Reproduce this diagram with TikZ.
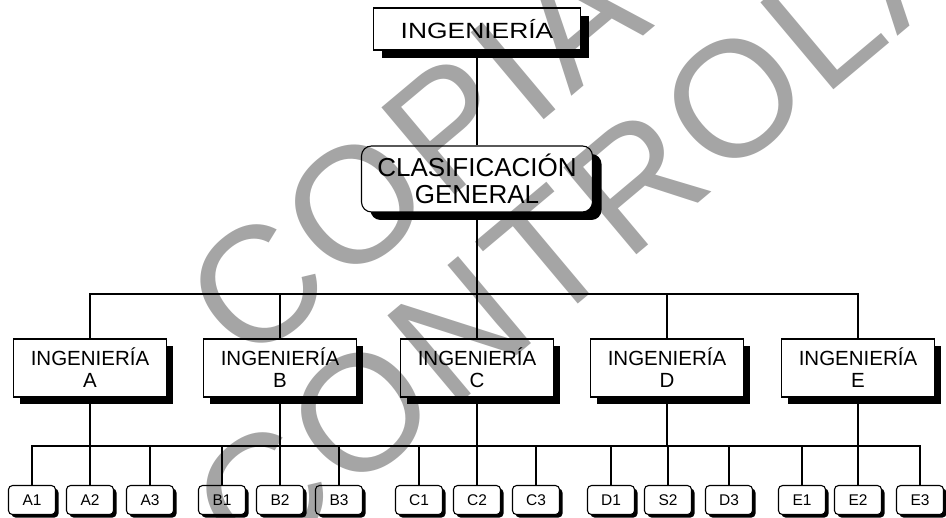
\documentclass[tikz,border=0pt]{standalone}
\usepackage{fontspec}
\setmainfont{Liberation Sans}
\newfontfamily\widesans{Liberation Sans}[FakeStretch=1.2]
\newfontfamily\stampfont{Liberation Sans}[LetterSpace=3]
\usepackage{xcolor}
\usetikzlibrary{positioning,shadows}
\definecolor{stampgray}{RGB}{165,165,165}
\tikzset{
  conn/.style={line width=1.8pt},
  topbox/.style={draw=black, line width=1.1pt, fill=white, inner sep=0pt,
    minimum width=207pt, minimum height=42pt,
    font=\widesans\fontsize{22}{24}\selectfont,
    drop shadow={shadow xshift=8pt, shadow yshift=-8pt, opacity=1, fill=black}},
  classbox/.style={draw=black, line width=1.1pt, fill=white, inner sep=0pt,
    rounded corners=10pt, align=center,
    minimum width=231pt, minimum height=66pt,
    font=\fontsize{26}{27}\selectfont,
    drop shadow={shadow xshift=9pt, shadow yshift=-8pt, opacity=1, fill=black}},
  engbox/.style={draw=black, line width=1.1pt, fill=white, inner sep=0pt,
    align=center, minimum width=153pt, minimum height=58pt,
    font=\fontsize{20.5}{22}\selectfont,
    drop shadow={shadow xshift=6.5pt, shadow yshift=-7pt, opacity=1, fill=black}},
  subbox/.style={draw=black, line width=1.1pt, fill=white, inner sep=0pt,
    rounded corners=4pt, minimum width=47pt, minimum height=29pt,
    font=\fontsize{15.5}{17}\selectfont,
    drop shadow={shadow xshift=3pt, shadow yshift=-3pt, opacity=1, fill=black}},
  stamp/.style={text=stampgray, rotate=40, anchor=base west, inner sep=0pt,
    font=\stampfont\fontsize{165}{165}\selectfont}
}
\begin{document}
\begin{tikzpicture}[x=1pt,y=-1pt]
\useasboundingbox (0,0) rectangle (946,518);
% Top
\node[topbox] (top) at (477,29) {INGENIER\'IA};
\node[classbox] (clas) at (477,179) {CLASIFICACI\'ON\\GENERAL};
\draw[conn] (top) -- (clas); % top vertical line
% Branches
\node[engbox] (ingA) at (90,368) {INGENIER\'IA\\A};
\node[engbox] (ingB) at (280,368) {INGENIER\'IA\\B};
\node[engbox] (ingC) at (477,368) {INGENIER\'IA\\C};
\node[engbox] (ingD) at (667,368) {INGENIER\'IA\\D};
\node[engbox] (ingE) at (858,368) {INGENIER\'IA\\E};
\coordinate (hub) at (477,294); % upper bar
\draw[conn] (clas) -- (ingC);
\draw[conn] (ingA) |- (hub);
\draw[conn] (ingB) |- (hub);
\draw[conn] (ingD) |- (hub);
\draw[conn] (ingE) |- (hub);
% Leaves
\node[subbox, below = 0pt of {(32,485)}] (A1) {A1};
\node[subbox, below = 0pt of {(90,485)}] (A2) {A2};
\node[subbox, below = 0pt of {(150,485)}] (A3) {A3};
\node[subbox, below = 0pt of {(222,485)}] (B1) {B1};
\node[subbox, below = 0pt of {(280,485)}] (B2) {B2};
\node[subbox, below = 0pt of {(339,485)}] (B3) {B3};
\node[subbox, below = 0pt of {(419,485)}] (C1) {C1};
\node[subbox, below = 0pt of {(477,485)}] (C2) {C2};
\node[subbox, below = 0pt of {(536,485)}] (C3) {C3};
\node[subbox, below = 0pt of {(611,485)}] (D1) {D1};
\node[subbox, below = 0pt of {(668,485)}] (S2) {S2};
\node[subbox, below = 0pt of {(729,485)}] (D3) {D3};
\node[subbox, below = 0pt of {(802,485)}] (E1) {E1};
\node[subbox, below = 0pt of {(858,485)}] (E2) {E2};
\node[subbox, below = 0pt of {(920,485)}] (E3) {E3};
\coordinate (low) at (477,446); % lower bar
\draw[conn] (ingA) -- (ingA |- low);
\draw[conn] (ingB) -- (ingB |- low);
\draw[conn] (ingC) -- (C2);
\draw[conn] (ingD) -- (ingD |- low);
\draw[conn] (ingE) -- (ingE |- low);
\draw[conn] (A1) |- (low);
\draw[conn] (A2) |- (low);
\draw[conn] (A3) |- (low);
\draw[conn] (B1) |- (low);
\draw[conn] (B2) |- (low);
\draw[conn] (B3) |- (low);
\draw[conn] (C1) |- (low);
\draw[conn] (C3) |- (low);
\draw[conn] (D1) |- (low);
\draw[conn] (S2) |- (low);
\draw[conn] (D3) |- (low);
\draw[conn] (E1) |- (low);
\draw[conn] (E2) |- (low);
\draw[conn] (E3) |- (low);
% Watermark
\begin{scope}[blend mode=multiply]
\node[stamp] (copia) at (247,369) {COPIA};
\node[stamp] (controlada) at (253,577) {CONTROLADA};
\end{scope}
\end{tikzpicture}
\end{document}
